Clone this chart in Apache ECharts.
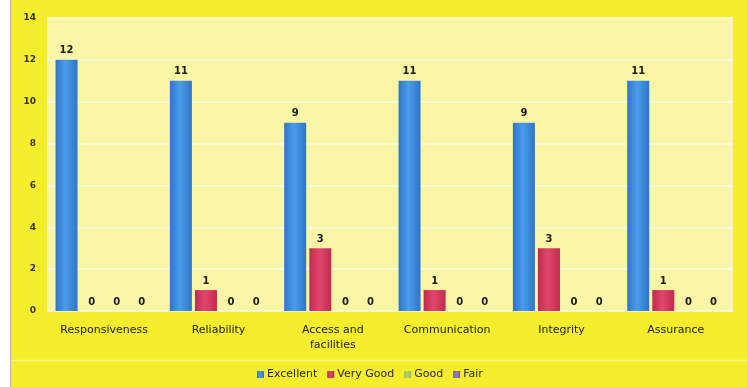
<!DOCTYPE html>
<html>
<head>
<meta charset="utf-8">
<style>
  html, body { margin: 0; padding: 0; background: #ffffff; }
  #chart { width: 747px; height: 387px; }
</style>
<script src="https://cdn.jsdelivr.net/npm/echarts@6/dist/echarts.min.js"></script>
</head>
<body>
<div id="chart"></div>
<script>
// Service quality ratings per dimension
const categories = ['Responsiveness', 'Reliability', 'Access and\nfacilities', 'Communication', 'Integrity', 'Assurance'];
const excellent = [12, 11, 9, 11, 9, 11];
const veryGood  = [0, 1, 3, 1, 3, 1];
const good      = [0, 0, 0, 0, 0, 0];
const fair      = [0, 0, 0, 0, 0, 0];
const yTicks    = [0, 2, 4, 6, 8, 10, 12, 14];

const FONT = '"DejaVu Sans", Verdana, sans-serif';

function barFill(edge, mid) {
  return {
    type: 'linear', x: 0, y: 0, x2: 1, y2: 0,
    colorStops: [
      { offset: 0, color: edge },
      { offset: 0.45, color: mid },
      { offset: 1, color: edge }
    ]
  };
}

const labelStyle = {
  show: true,
  position: 'top',
  distance: 4,
  color: '#1a1a1a',
  fontFamily: FONT,
  fontWeight: 'bold',
  fontSize: 10
};

function makeSeries(name, data, edge, mid) {
  return {
    name: name,
    type: 'bar',
    data: data,
    barWidth: 22,
    barGap: '14%',
    itemStyle: { color: barFill(edge, mid) },
    label: labelStyle
  };
}

const chart = echarts.init(document.getElementById('chart'));
chart.setOption({
  backgroundColor: '#f6ed2c',
  animation: false,
  graphic: [
    { type: 'rect', shape: { x: 0, y: 0, width: 10, height: 387 }, style: { fill: '#ffffff' }, z: 100 },
    { type: 'line', shape: { x1: 10.5, y1: 0, x2: 10.5, y2: 387 }, style: { stroke: '#b8b8a0', lineWidth: 1 }, z: 100 },
    { type: 'line', shape: { x1: 11, y1: 360.5, x2: 747, y2: 360.5 }, style: { stroke: '#fbf58a', lineWidth: 1.5 }, z: 1 }
  ],
  grid: {
    left: 47, right: 14, top: 18, bottom: 76,
    show: true,
    backgroundColor: '#fbf6a6',
    borderWidth: 0
  },
  legend: {
    data: [
      { name: 'Excellent', icon: 'rect' },
      { name: 'Very Good', icon: 'rect' },
      { name: 'Good', icon: 'rect' },
      { name: 'Fair', icon: 'rect' }
    ],
    left: 252,
    top: 364,
    itemWidth: 7,
    itemHeight: 7,
    itemGap: 10,
    textStyle: { fontFamily: FONT, fontSize: 11, color: '#2a2a2a', padding: [0, 0, 0, -2] }
  },
  xAxis: {
    type: 'category',
    data: categories,
    axisLine: { show: false },
    axisTick: { show: false },
    axisLabel: {
      fontFamily: FONT,
      fontSize: 11,
      color: '#222222',
      margin: 12,
      lineHeight: 15
    }
  },
  yAxis: {
    type: 'value',
    min: 0,
    max: 14,
    interval: 2,
    axisLine: { show: false },
    axisTick: { show: false },
    splitLine: { lineStyle: { color: '#fdfbe0', width: 1.5 } },
    axisLabel: {
      fontFamily: FONT,
      fontSize: 9,
      fontWeight: 'bold',
      color: '#333333',
      margin: 11,
      formatter: function (v) { return yTicks.indexOf(v) >= 0 ? String(v) : ''; }
    }
  },
  series: [
    makeSeries('Excellent', excellent, '#2f74c8', '#4b9cea'),
    makeSeries('Very Good', veryGood, '#c42a50', '#e0476c'),
    makeSeries('Good', good, '#9bbb59', '#b5d07a'),
    makeSeries('Fair', fair, '#7a5aa8', '#9479c0')
  ],
  color: ['#3a86d8', '#d63a60', '#c8d8a0', '#7a5aa8']
});
</script>
</body>
</html>
